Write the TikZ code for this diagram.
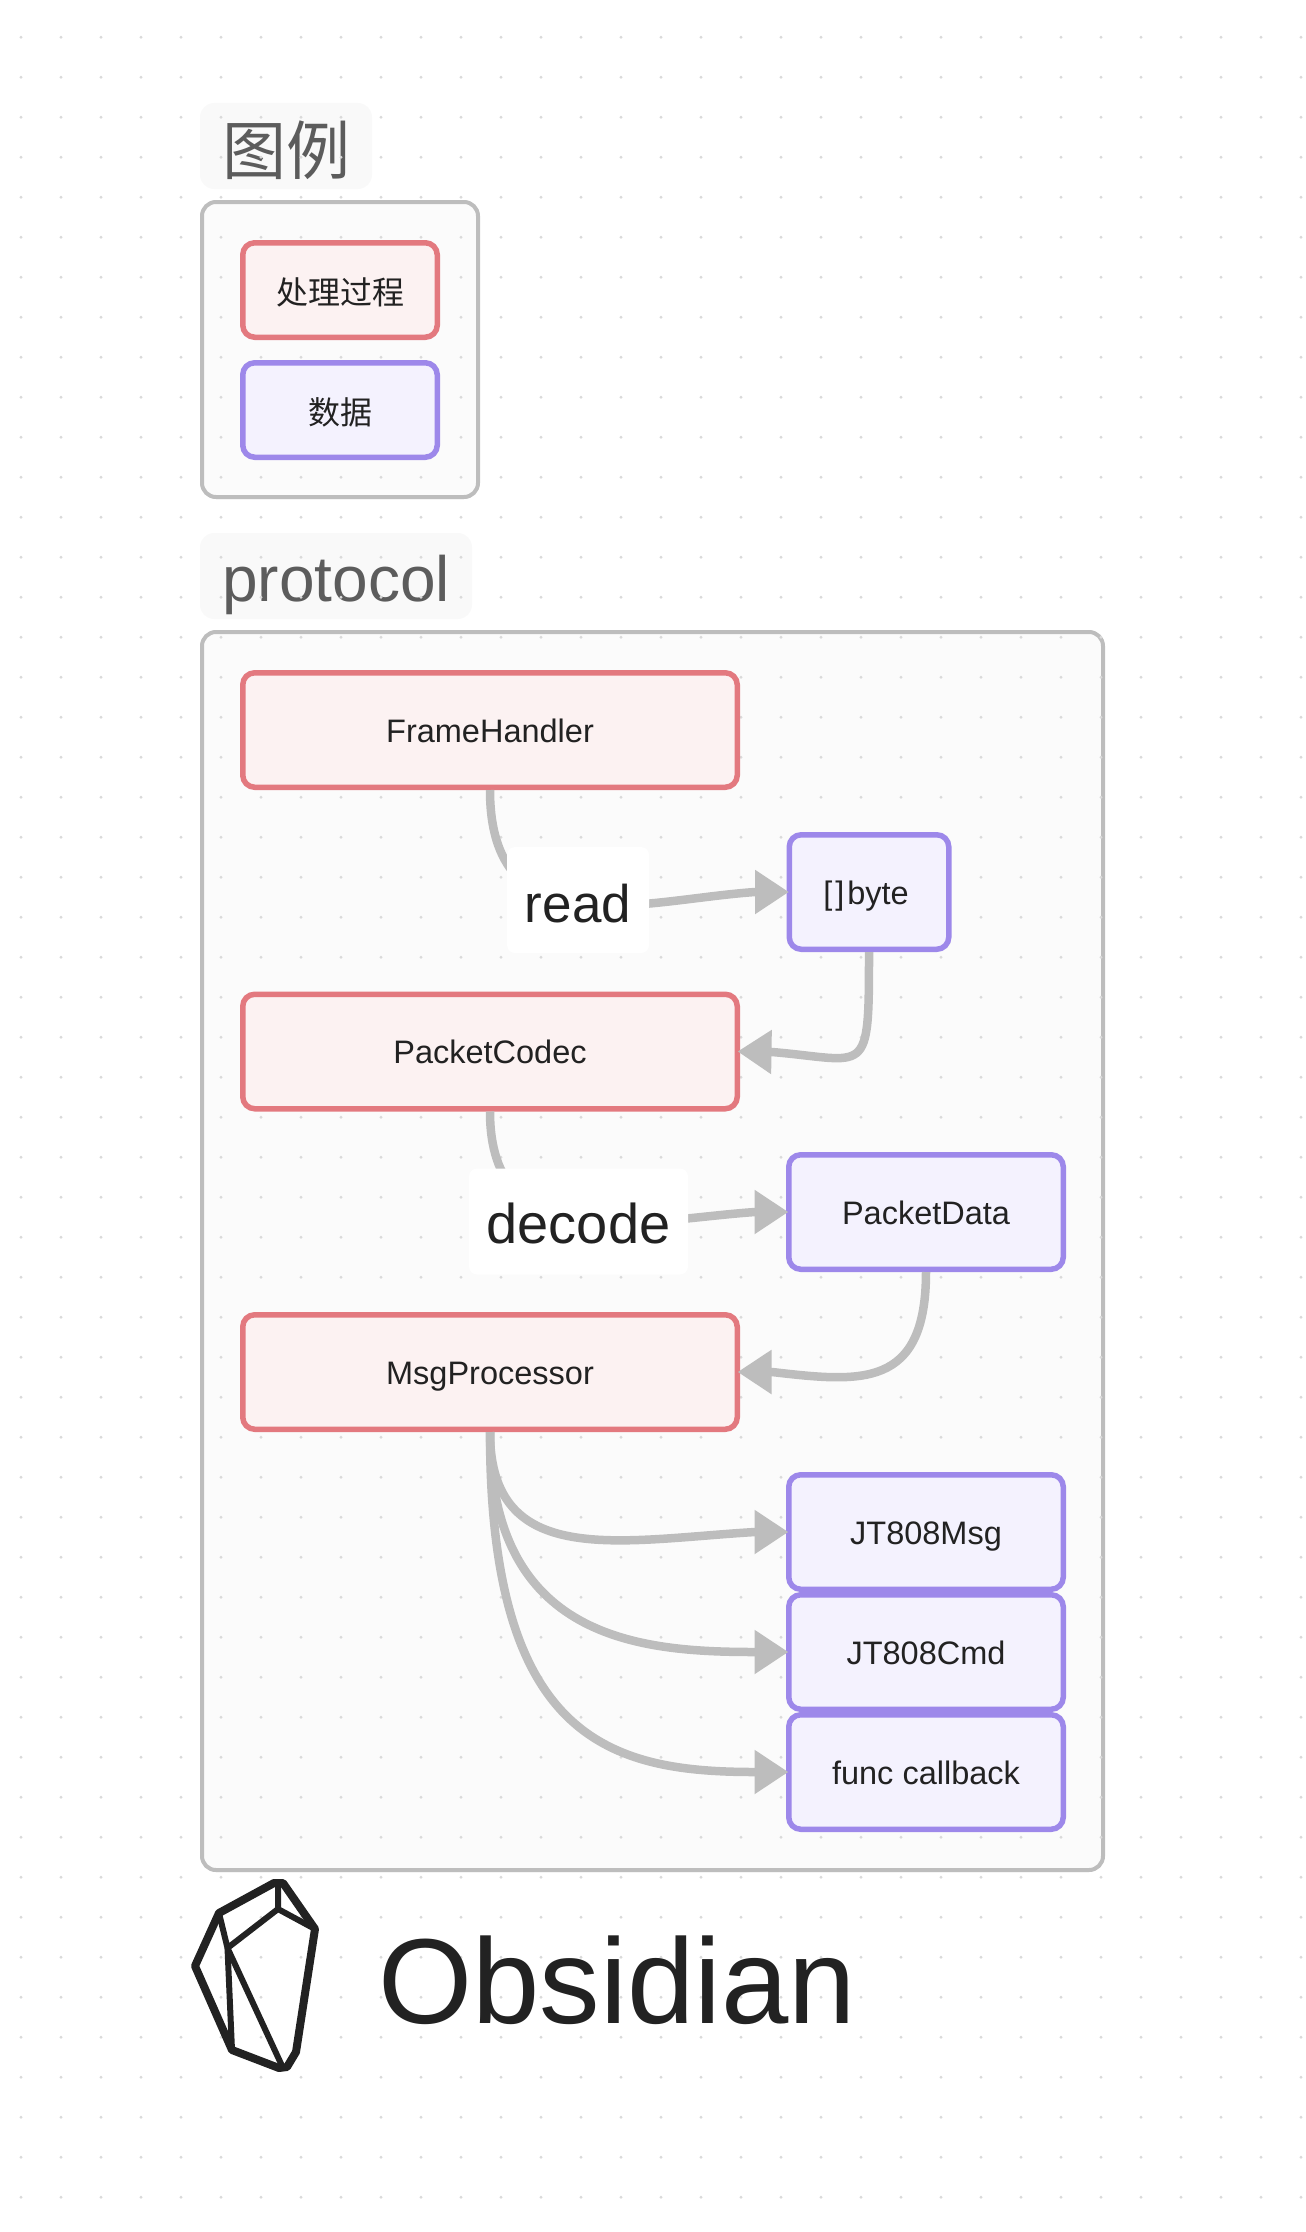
\documentclass[tikz,border=0pt]{standalone}
\usepackage{fontspec}
\usetikzlibrary{arrows.meta, shadows}
\setmainfont{Liberation Sans}
\newfontfamily\cjkfont{Noto Sans CJK SC}
\definecolor{akane}{HTML}{E3797F}
\definecolor{momoiro}{HTML}{FCF2F2}
\definecolor{fuji}{HTML}{9D88EA}
\definecolor{usufuji}{HTML}{F4F2FE}
\definecolor{nezumi}{HTML}{BDBDBD}
\definecolor{sumi}{HTML}{222222}
\definecolor{hai}{HTML}{5C5C5C}
\definecolor{kiri}{HTML}{FBFBFB}
\definecolor{kasumi}{HTML}{F9F9F9}
\definecolor{ten}{HTML}{DADADA}
\tikzset{
    softshadow/.style={drop shadow={shadow xshift=0pt, shadow yshift=-1pt, opacity=0.1, fill=black}},
    basebox/.style={rectangle, rounded corners=6pt, inner sep=0pt, line width=2.75pt, minimum height=57.25pt, text=sumi, font=\fontsize{16.25}{20}\selectfont, text height=12.75pt, text depth=0.5pt, softshadow},
    procbox/.style={basebox, draw=akane, fill=momoiro, minimum width=247.25pt},
    databox/.style={basebox, draw=fuji, fill=usufuji, minimum width=137.25pt},
    groupbox/.style={rectangle, rounded corners=7pt, inner sep=0pt, draw=nezumi, fill=kiri, line width=2pt, softshadow},
    titlebox/.style={rectangle, rounded corners=7pt, inner sep=0pt, fill=kasumi, text=hai},
    labelbox/.style={rectangle, rounded corners=4pt, inner sep=0pt, fill=white, text=sumi, minimum height=53pt, text height=24pt, text depth=2pt},
    flow/.style={draw=nezumi, line width=4.25pt, shorten >=-1.25pt, -{Triangle[length=17pt,width=21pt]}},
    logoline/.style={draw=sumi, line join=round}
}

\begin{document}
\begin{tikzpicture}[x=0.5pt, y=-0.5pt]
    \useasboundingbox (0, 0) rectangle (1306, 2232);

    \node[groupbox, minimum width=138pt, minimum height=147.5pt] (legend) at (340, 349.5) {};
    \node[groupbox, minimum width=450.5pt, minimum height=619pt] (protocol) at (652.5, 1251) {};
    \node[titlebox, minimum width=86pt, minimum height=43pt, font=\fontsize{32}{36}\selectfont\cjkfont, text height=30pt, text depth=2pt] (legendtitle) at (286, 146) {图例};
    \node[titlebox, minimum width=136pt, minimum height=43pt, font=\fontsize{32}{36}\selectfont, text height=27pt, text depth=2pt] (protocoltitle) at (336, 576) {protocol};

    \foreach \x in {21, 61, ..., 1301}
        \foreach \y in {37.3, 77.3, ..., 2232}
            \fill[ten] (\x, \y) circle (0.8pt);

    \node[basebox, draw=akane, fill=momoiro, minimum width=97.25pt, minimum height=47.25pt, font=\fontsize{16}{20}\selectfont\cjkfont, text height=14.5pt] (legendproc) at (340, 290) {处理过程};
    \node[basebox, draw=fuji, fill=usufuji, minimum width=97.25pt, minimum height=47.25pt, font=\fontsize{16}{20}\selectfont\cjkfont, text height=14.5pt] (legenddata) at (340, 410) {数据};

    \node[procbox] (framehandler) at (490, 730) {FrameHandler};
    \node[procbox] (packetcodec) at (490, 1051.5) {PacketCodec};
    \node[procbox] (msgprocessor) at (490, 1372) {MsgProcessor};

    \node[databox, minimum width=79.75pt] (byte) at (869, 892) {[\kern1.5pt]\kern1.5pt byte\kern3pt};
    \node[databox] (packetdata) at (926, 1212) {PacketData};
    \node[databox] (jtmsg) at (926, 1532) {JT808Msg};
    \node[databox] (jtcmd) at (926, 1652) {JT808Cmd};
    \node[databox] (callback) at (926, 1772) {func callback};

    \draw[flow] (framehandler.south) .. controls (490, 950) and (640, 900) .. (755, 892) -- (byte.west);
    \draw[flow] (byte.south) .. controls (869, 1080) and (868, 1060) .. (772, 1052) -- (packetcodec.east);
    \draw[flow] (packetcodec.south) .. controls (490, 1260) and (640, 1220) .. (755, 1212) -- (packetdata.west);
    \draw[flow] (packetdata.south) .. controls (926, 1390) and (860, 1382) .. (772, 1372) -- (msgprocessor.east);
    \draw[flow] (msgprocessor.south) .. controls (490, 1570) and (620, 1540) .. (755, 1532) -- (jtmsg.west);
    \draw[flow] (msgprocessor.south) .. controls (490, 1640) and (640, 1652) .. (755, 1652) -- (jtcmd.west);
    \draw[flow] (msgprocessor.south) .. controls (490, 1740) and (610, 1772) .. (755, 1772) -- (callback.west);

    \node[labelbox, minimum width=71pt, font=\fontsize{26.5}{32}\selectfont] (readlabel) at (578, 900) {read};
    \node[labelbox, minimum width=109.5pt, font=\fontsize{28}{32}\selectfont] (decodelabel) at (578.5, 1221.5) {decode};

    \draw[logoline, line width=4pt] (274, 1883) -- (283, 1883) -- (315, 1929) -- (296, 2052) -- (287, 2067) -- (279, 2068) -- (232, 2050) -- (195, 1966) -- (219, 1913) -- cycle;
    \draw[logoline, line width=3pt] (278, 1883) -- (278, 1909) -- (315, 1929);
    \draw[logoline, line width=3pt] (278, 1909) -- (227.5, 1948) -- (219, 1913);
    \draw[logoline, line width=3pt] (227.5, 1948) -- (283, 2068);
    \draw[logoline, line width=3pt] (227.5, 1948) -- (232, 2050);

    \node[anchor=base west, inner sep=0pt, text=sumi, font=\fontsize{60.5}{70}\selectfont] (brand) at (378, 2023) {Obsidian};
\end{tikzpicture}
\end{document}
